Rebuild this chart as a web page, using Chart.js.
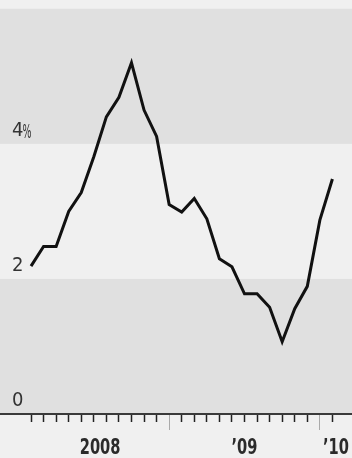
<!DOCTYPE html>
<html>
<head>
<meta charset="utf-8">
<script src="https://cdn.jsdelivr.net/npm/chart.js@4"></script>
<style>
  body { margin: 0; background: #f0f0f0; }
  canvas { display: block; }
</style>
</head>
<body>
<canvas id="myChart1" width="352" height="458"></canvas>
<script>
// monthly values, Feb 2008 .. Feb 2010
const months = ['Feb08','Mar08','Apr08','May08','Jun08','Jul08','Aug08','Sep08','Oct08','Nov08','Dec08',
  'Jan09','Feb09','Mar09','Apr09','May09','Jun09','Jul09','Aug09','Sep09','Oct09','Nov09','Dec09',
  'Jan10','Feb10']
const values = [2.19, 2.48, 2.48, 3.00, 3.28, 3.81, 4.40, 4.69, 5.20, 4.50, 4.11,
  3.10, 2.99, 3.19, 2.89, 2.30, 2.18, 1.78, 1.78, 1.58, 1.07, 1.56, 1.89,
  2.87, 3.48]
const yTicks = [0, 2, 4]
const yTickLabels = ['0', '2', '4']
const yUnit = '%'
const yearLabels = ['2008', '\u201909', '\u201910']
const yearStarts = ['Jan09', 'Jan10']

const FONT = "'DejaVu Sans Condensed', 'DejaVu Sans', sans-serif"
const xMin = -2.47, xMax = 25.56

const points = []
for (let i = 0; i <= values.length-1; i++){
  points.push({x: i, y: values[i]})
}
const yearIdx = yearStarts.map(m => months.indexOf(m))
// label sits in the middle of the part of each year on the axis
const edges = [0, ...yearIdx, xMax]
const yearPos = []
for (let i = 0; i < yearLabels.length; i++){
  yearPos.push((edges[i] + edges[i+1]) / 2)
}

const noPad = s => { s.paddingLeft = 0; s.paddingRight = 0; s.paddingTop = 0; s.paddingBottom = 0 }

const bands = {
  id: 'bands',
  beforeDraw(chart) {
    const {ctx, chartArea, scales} = chart
    ctx.save()
    ctx.fillStyle = '#e0e0e0'
    for (const [a, b] of [[0, 2], [4, 6]]) {
      const y1 = scales.y.getPixelForValue(b)
      const y2 = scales.y.getPixelForValue(a)
      ctx.fillRect(chartArea.left, y1, chartArea.right - chartArea.left, y2 - y1)
    }
    ctx.restore()
  },
  afterDraw(chart) {
    // condensed year labels and the small % sign
    const {ctx, scales} = chart
    ctx.save()
    ctx.fillStyle = '#2a2a2a'
    ctx.font = "bold 22px " + FONT
    ctx.textAlign = 'center'
    ctx.textBaseline = 'alphabetic'
    const base = scales.xLab.top + 40
    yearLabels.forEach((t, i) => {
      const x = scales.xLab.getPixelForValue(yearPos[i])
      ctx.save()
      ctx.translate(x, base)
      ctx.scale(0.74, 1)
      ctx.fillText(t, 0, 0)
      ctx.restore()
    })
    // % after the top y label
    ctx.fillStyle = '#333'
    ctx.font = "19px " + FONT
    ctx.textAlign = 'left'
    const y = scales.y.getPixelForValue(yTicks[yTicks.length-1]) - 6
    ctx.translate(22.5, y)
    ctx.scale(0.55, 1)
    ctx.fillText(yUnit, 0, 0)
    ctx.restore()
  }
}

const ctx = document.getElementById('myChart1')
new Chart(ctx, {
  type: 'line',
  data: {
    datasets: [{
      data: points,
      borderColor: '#111',
      borderWidth: 3,
      borderJoinStyle: 'miter',
      pointRadius: 0,
      tension: 0
    }]
  },
  options: {
    responsive: false,
    animation: false,
    layout: { padding: 0 },
    plugins: { legend: { display: false }, tooltip: { enabled: false } },
    scales: {
      x: {
        type: 'linear', min: xMin, max: xMax, weight: 0,
        afterBuildTicks: s => { s.ticks = months.map((m, i) => ({value: i})) },
        afterFit: s => { s.height = 0; noPad(s) },
        ticks: { callback: () => '' },
        grid: {
          drawOnChartArea: false, tickLength: 8, tickWidth: 1.5,
          tickColor: c => yearIdx.includes(c.tick && c.tick.value) ? 'rgba(0,0,0,0)' : '#222'
        },
        border: { color: '#3a3a3a', width: 2 }
      },
      xYear: {
        type: 'linear', position: 'bottom', min: xMin, max: xMax, weight: 1,
        afterBuildTicks: s => { s.ticks = yearIdx.map(v => ({value: v})) },
        afterFit: s => { s.height = 0; noPad(s) },
        ticks: { callback: () => '' },
        grid: { drawOnChartArea: false, tickLength: 16, tickWidth: 1, tickColor: '#aaa' },
        border: { display: false }
      },
      xLab: {
        type: 'linear', position: 'bottom', min: xMin, max: xMax, weight: 2,
        afterBuildTicks: s => { s.ticks = yearPos.map(v => ({value: v})) },
        afterFit: s => { s.height = 44; noPad(s) },
        ticks: { display: false },
        grid: { display: false, drawTicks: false },
        border: { display: false }
      },
      y: {
        min: 0, max: 6.13,
        afterBuildTicks: s => { s.ticks = yTicks.map(v => ({value: v})) },
        afterFit: s => { s.width = 0; noPad(s) },
        ticks: {
          mirror: true, padding: 12, labelOffset: -13,
          callback: (v) => yTickLabels[yTicks.indexOf(v)],
          color: '#333',
          font: { family: FONT, size: 20 }
        },
        grid: { display: false },
        border: { display: false }
      }
    }
  },
  plugins: [bands]
})
</script>
</body>
</html>
